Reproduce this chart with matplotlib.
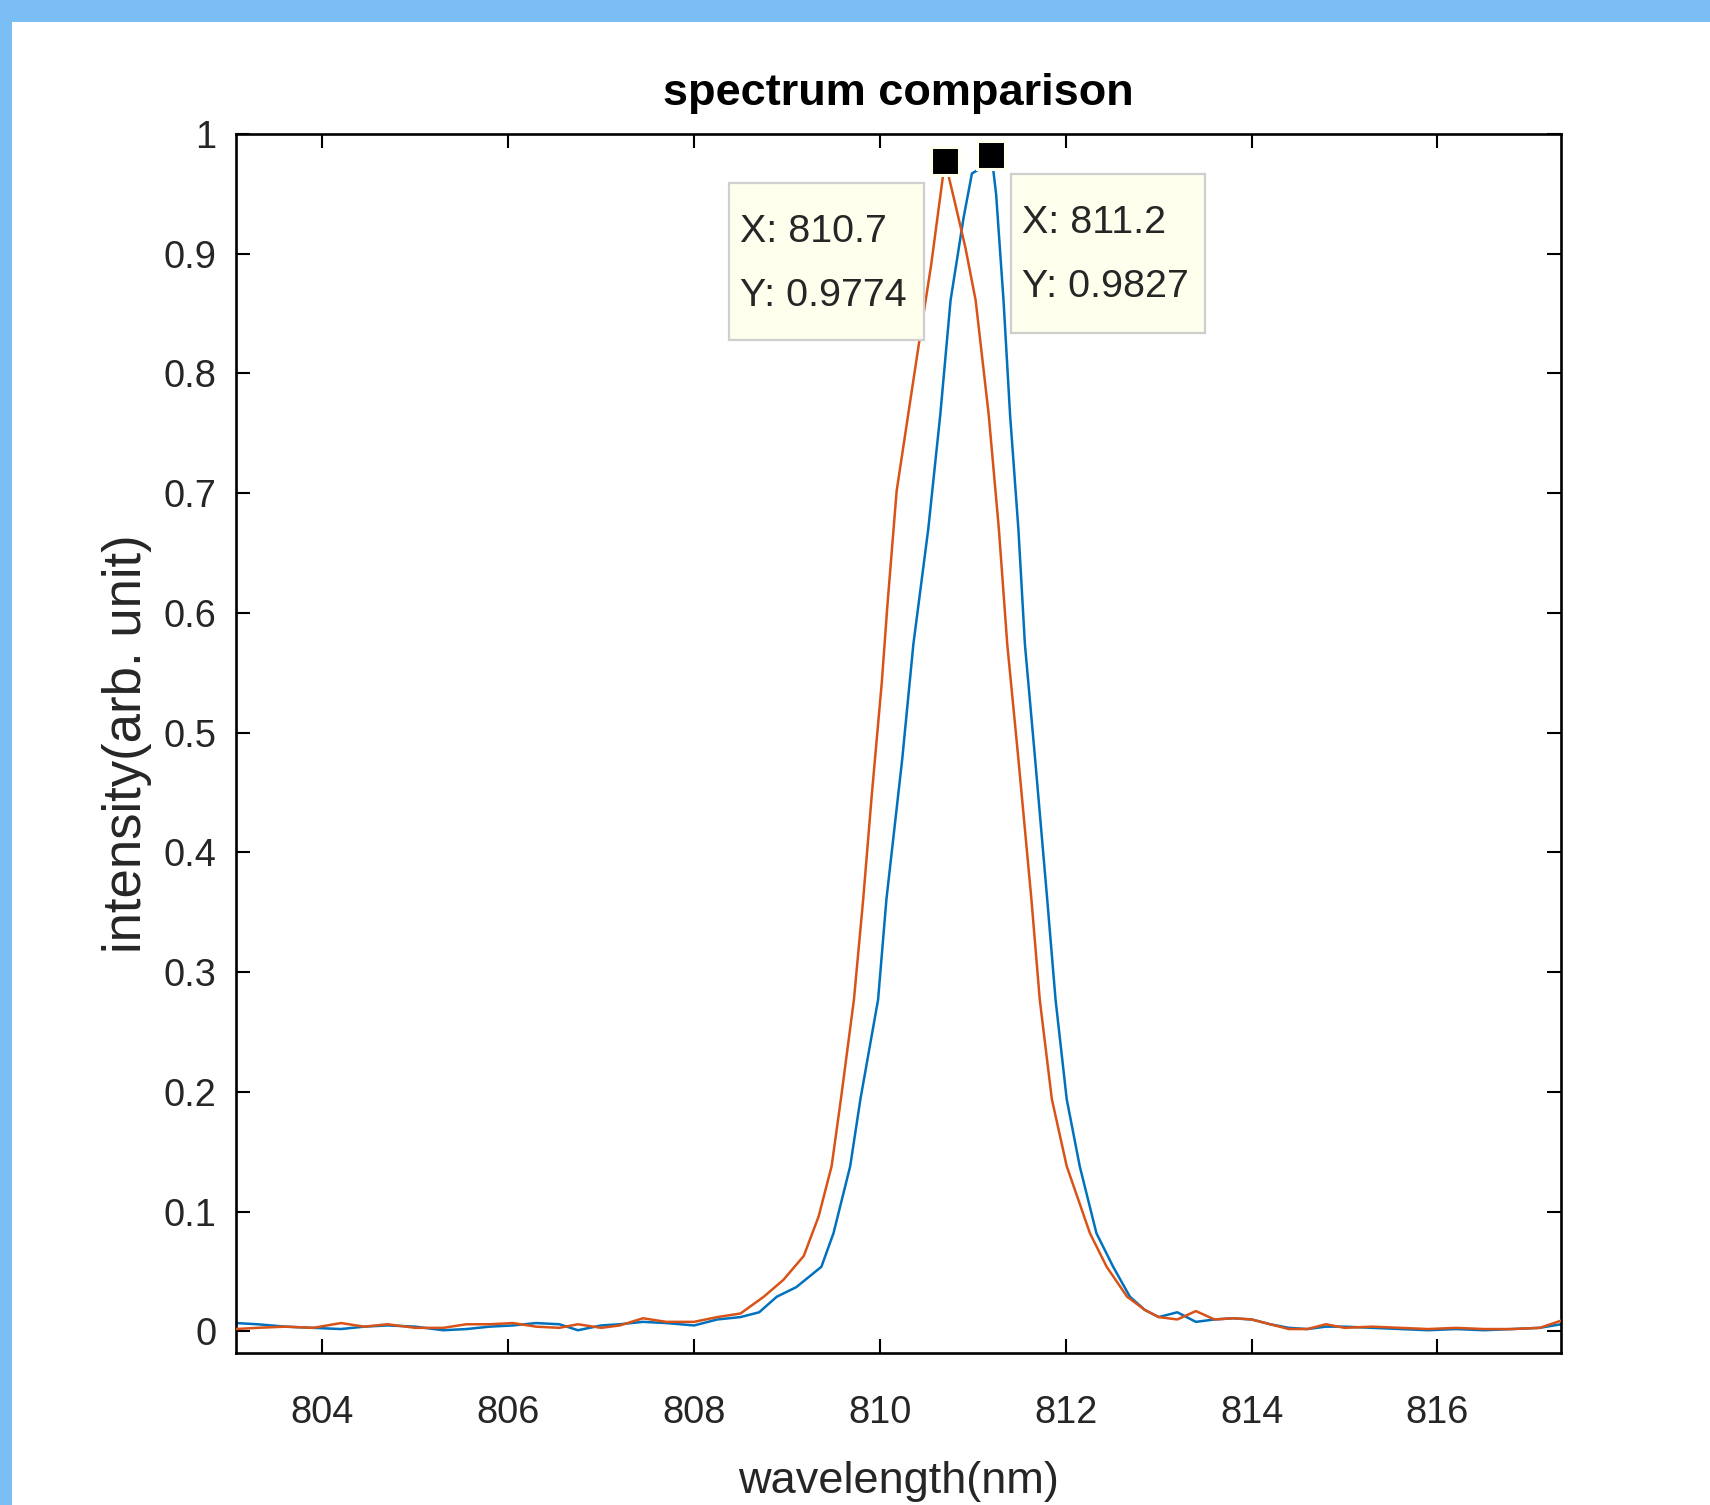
import matplotlib
matplotlib.use("Agg")
import matplotlib.pyplot as plt
from matplotlib import transforms
from matplotlib.patches import Rectangle

# ── Data ─────────────────────────────────────────────────────────────────────
# series 1 (blue): peak at 811.2 nm
WL_BLUE = [803.07, 803.3, 803.6, 803.9, 804.2, 804.45, 804.7, 805.0, 805.3, 805.55,
           805.8, 806.05, 806.3, 806.55, 806.75, 807.0, 807.2, 807.45, 807.7, 808.0,
           808.25, 808.5, 808.7, 808.89, 809.1, 809.37, 809.5, 809.68, 809.79, 809.98,
           810.07, 810.24, 810.36, 810.52, 810.65, 810.76, 810.9, 810.99, 811.1, 811.2,
           811.25, 811.33, 811.4, 811.49, 811.56, 811.67, 811.8, 811.89, 812.01, 812.15,
           812.33, 812.51, 812.69, 812.85, 813.0, 813.2, 813.4, 813.6, 813.8, 814.0,
           814.2, 814.4, 814.6, 814.8, 815.0, 815.3, 815.6, 815.9, 816.2, 816.5,
           816.8, 817.1, 817.33]
INT_BLUE = [0.007, 0.006, 0.004, 0.003, 0.002, 0.004, 0.005, 0.004, 0.001, 0.002,
            0.004, 0.005, 0.007, 0.006, 0.001, 0.005, 0.006, 0.008, 0.007, 0.005,
            0.010, 0.012, 0.016, 0.029, 0.037, 0.054, 0.082, 0.138, 0.194, 0.277,
            0.361, 0.478, 0.574, 0.670, 0.766, 0.861, 0.930, 0.967, 0.972, 0.9827,
            0.950, 0.861, 0.766, 0.670, 0.574, 0.478, 0.361, 0.277, 0.194, 0.138,
            0.082, 0.054, 0.029, 0.018, 0.012, 0.016, 0.008, 0.010, 0.011, 0.010,
            0.006, 0.003, 0.002, 0.004, 0.004, 0.003, 0.002, 0.001, 0.002, 0.001,
            0.002, 0.003, 0.006]

# series 2 (orange): peak at 810.7 nm
WL_RED = [803.07, 803.3, 803.6, 803.9, 804.2, 804.45, 804.7, 805.0, 805.3, 805.55,
          805.8, 806.05, 806.3, 806.55, 806.75, 807.0, 807.2, 807.45, 807.7, 808.0,
          808.25, 808.5, 808.75, 808.96, 809.18, 809.34, 809.48, 809.58, 809.72, 809.82,
          809.91, 810.02, 810.08, 810.18, 810.41, 810.55, 810.7, 810.8, 810.92, 811.03,
          811.17, 811.28, 811.37, 811.49, 811.63, 811.72, 811.85, 812.01, 812.26, 812.44,
          812.66, 812.85, 813.0, 813.2, 813.4, 813.6, 813.8, 814.0, 814.2, 814.4,
          814.6, 814.8, 815.0, 815.3, 815.6, 815.9, 816.2, 816.5, 816.8, 817.1,
          817.33]
INT_RED = [0.002, 0.003, 0.004, 0.003, 0.007, 0.004, 0.006, 0.003, 0.003, 0.006,
           0.006, 0.007, 0.004, 0.003, 0.006, 0.003, 0.005, 0.011, 0.008, 0.008,
           0.012, 0.015, 0.029, 0.043, 0.063, 0.096, 0.138, 0.194, 0.277, 0.361,
           0.446, 0.542, 0.606, 0.702, 0.820, 0.890, 0.9774, 0.945, 0.905, 0.861,
           0.766, 0.670, 0.574, 0.478, 0.361, 0.277, 0.194, 0.138, 0.082, 0.054,
           0.029, 0.018, 0.012, 0.010, 0.017, 0.010, 0.011, 0.010, 0.006, 0.002,
           0.002, 0.006, 0.003, 0.004, 0.003, 0.002, 0.003, 0.002, 0.002, 0.003,
           0.009]

TIP_RED = (810.7, 0.9774)
TIP_BLUE = (811.2, 0.9827)

X_TICKS = [804, 806, 808, 810, 812, 814, 816]
Y_TICKS = [0, 0.1, 0.2, 0.3, 0.4, 0.5, 0.6, 0.7, 0.8, 0.9, 1.0]
Y_TICK_LABELS = ["0", "0.1", "0.2", "0.3", "0.4", "0.5", "0.6", "0.7", "0.8", "0.9", "1"]
XLIM = (803.07, 817.33)
YLIM = (-0.018, 1.0)

# ── Style ─────────────────────────────────────────────────────────────────────
BLUE = "#0072BD"
ORANGE = "#D95319"
TEXT = "#262626"
TIP_BG = "#FFFFEE"
BAND = "#7BBEF5"
DPI = 100

plt.rcParams["font.family"] = ["Liberation Sans", "DejaVu Sans"]

fig = plt.figure(figsize=(17.10, 15.05), dpi=DPI)
fig.patch.set_facecolor("white")
# blue frame strips (top and left) of the screenshot
fig.patches.append(Rectangle((0, 1 - 22 / 1505), 1, 22 / 1505, transform=fig.transFigure,
                             facecolor=BAND, edgecolor="none", zorder=0))
fig.patches.append(Rectangle((0, 0), 12 / 1710, 1, transform=fig.transFigure,
                             facecolor=BAND, edgecolor="none", zorder=0))

ax = fig.add_axes([0.1380, 0.1010, 0.7749, 0.8100])
ax.plot(WL_BLUE, INT_BLUE, color=BLUE, lw=1.8, zorder=2)
ax.plot(WL_RED, INT_RED, color=ORANGE, lw=1.8, zorder=3)

ax.set_xlim(*XLIM)
ax.set_ylim(*YLIM)
ax.set_xticks(X_TICKS)
ax.set_xticklabels([str(t) for t in X_TICKS])
ax.set_yticks(Y_TICKS)
ax.set_yticklabels(Y_TICK_LABELS)
ax.tick_params(direction="in", length=10, width=1.5, top=True, right=True,
               labelsize=27.4, labelcolor=TEXT, color="black")
ax.tick_params(axis="x", pad=30)
ax.tick_params(axis="y", pad=14)
for sp in ax.spines.values():
    sp.set_linewidth(1.9)
    sp.set_color("black")

ax.set_title("spectrum comparison", fontsize=32.5, fontweight="bold", color="black", pad=21)
ax.set_xlabel("wavelength(nm)", fontsize=32.5, color=TEXT, labelpad=22)
ax.set_ylabel("intensity(arb. unit)", fontsize=38, color=TEXT, labelpad=8)

# ── Data tips ─────────────────────────────────────────────────────────────────
def data_tip(pt, box_ll, box_wh):
    """MATLAB-style data tip: black square marker + light yellow label box.
    box_ll / box_wh are pixel offsets relative to the data point."""
    px, py = pt
    ax.plot([px], [py], "s", ms=20, mfc="black", mec=TIP_BG, mew=2.2,
            clip_on=False, zorder=6)
    trans = transforms.Affine2D() + transforms.ScaledTranslation(px, py, ax.transData)
    ax.add_patch(Rectangle(box_ll, box_wh[0], box_wh[1], transform=trans,
                           facecolor=TIP_BG, edgecolor="#CFCFCF", lw=1.6,
                           clip_on=False, zorder=7))
    ax.annotate(f"X: {px}\nY: {py}", xy=(px, py),
                xytext=(box_ll[0] + 11, box_ll[1] + box_wh[1] / 2 - 2),
                textcoords="offset pixels", ha="left", va="center",
                fontsize=28.4, color=TEXT, linespacing=2.0, zorder=8,
                annotation_clip=False)


data_tip(TIP_RED, (-216, -179), (195, 157))
data_tip(TIP_BLUE, (20, -178), (194, 159))

fig.savefig("out.png", dpi=DPI)
